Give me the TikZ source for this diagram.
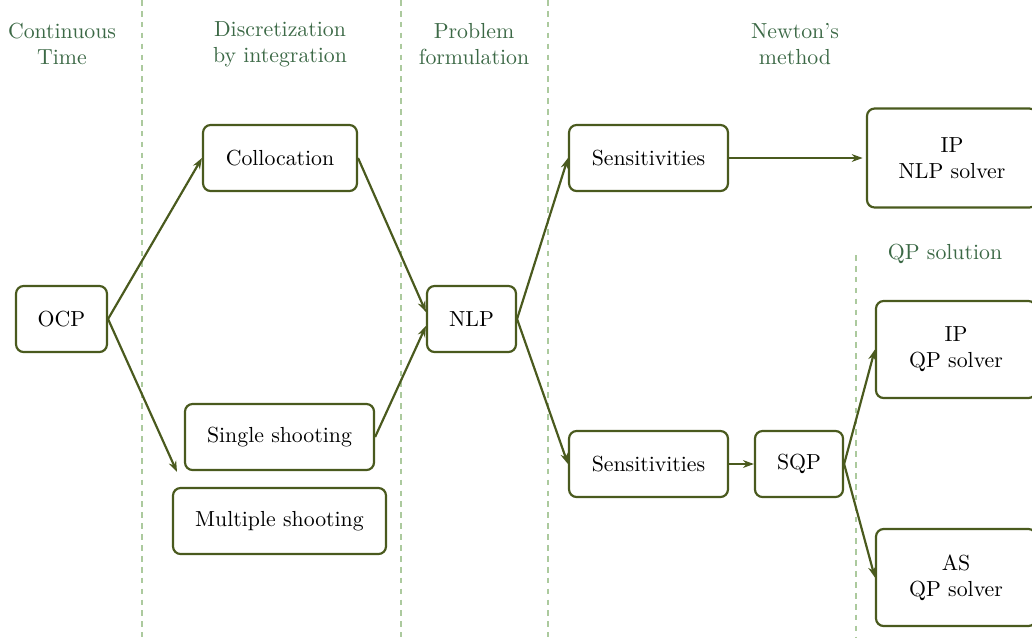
\documentclass[tikz,border=0pt]{standalone}
\usetikzlibrary{arrows.meta}
\definecolor{boxc}{RGB}{74,90,30}
\definecolor{headc}{RGB}{60,105,70}
\definecolor{sepc}{RGB}{172,202,158}
\begin{document}
\begin{tikzpicture}[x=0.4587pt,y=-0.4587pt,
  blk/.style={draw=boxc,line width=1pt,rounded corners=3.5pt,align=center,inner sep=0pt,minimum height=30.3pt},
  head/.style={text=headc,align=center,inner sep=0pt},
  sep/.style={draw=sepc,dash pattern=on 2.6pt off 2.4pt,line width=0.5pt},
  arr/.style={draw=boxc,line width=1pt,-{Stealth[length=5pt,width=3.6pt]}}]
\useasboundingbox (0,0) rectangle (1032,637);
\begin{scope}
\clip (0,0) rectangle (1032,637);
% separators
\coordinate (s1t) at (142,0); \coordinate (s1b) at (142,637);
\coordinate (s2t) at (401,0); \coordinate (s2b) at (401,637);
\coordinate (s3t) at (548,0); \coordinate (s3b) at (548,637);
\coordinate (s4t) at (856,255); \coordinate (s4b) at (856,637);
\draw[sep] (s1t) -- (s1b);
\draw[sep] (s2t) -- (s2b);
\draw[sep] (s3t) -- (s3b);
\draw[sep] (s4t) -- (s4b);
% headers
\node[head] (h1) at (62,44) {Continuous\\Time};
\node[head] (h2) at (280,44) {Discretization\\by integration};
\node[head] (h3) at (474,44) {Problem\\formulation};
\node[head] (h4) at (795,44) {Newton's\\method};
\node[head] (h5) at (945,254) {QP solution};
% nodes
\node[blk,minimum width=41.7pt] (ocp) at (61.5,319) {OCP};
\node[blk,minimum width=70.6pt] (col) at (280,158) {Collocation};
\node[blk,minimum width=86.7pt] (ss) at (279.5,437) {Single shooting};
\node[blk,minimum width=97.7pt] (ms) at (279.5,521) {Multiple shooting};
\node[blk,minimum width=40.8pt] (nlp) at (471.5,319) {NLP};
\node[blk,minimum width=72.9pt] (sen1) at (648.5,158) {Sensitivities};
\node[blk,minimum width=72.9pt] (sen2) at (648.5,464) {Sensitivities};
\node[blk,minimum width=40.4pt] (sqp) at (799,464) {SQP};
\node[blk,minimum width=78pt,minimum height=45.4pt] (ipnlp) at (952,158) {IP\\NLP solver};
\node[blk,minimum width=73.4pt,minimum height=44.5pt] (ipqp) at (956,349.5) {IP\\QP solver};
\node[blk,minimum width=73.4pt,minimum height=44.5pt] (asqp) at (956,577.5) {AS\\QP solver};
\coordinate (msend) at (177,472);
% arrows
\draw[arr] (ocp.east) -- (col.west);
\draw[arr] (ocp.east) -- (msend);
\draw[arr] (col.east) -- ([yshift=3.2pt]nlp.west);
\draw[arr] (ss.east) -- ([yshift=-3.2pt]nlp.west);
\draw[arr] (nlp.east) -- (sen1.west);
\draw[arr] (nlp.east) -- (sen2.west);
\draw[arr,shorten >=1.5pt] (sen1.east) -- (ipnlp.west);
\draw[arr] (sen2.east) -- (sqp.west);
\draw[arr] (sqp.east) -- (ipqp.west);
\draw[arr] (sqp.east) -- (asqp.west);
\end{scope}
\end{tikzpicture}
\end{document}
